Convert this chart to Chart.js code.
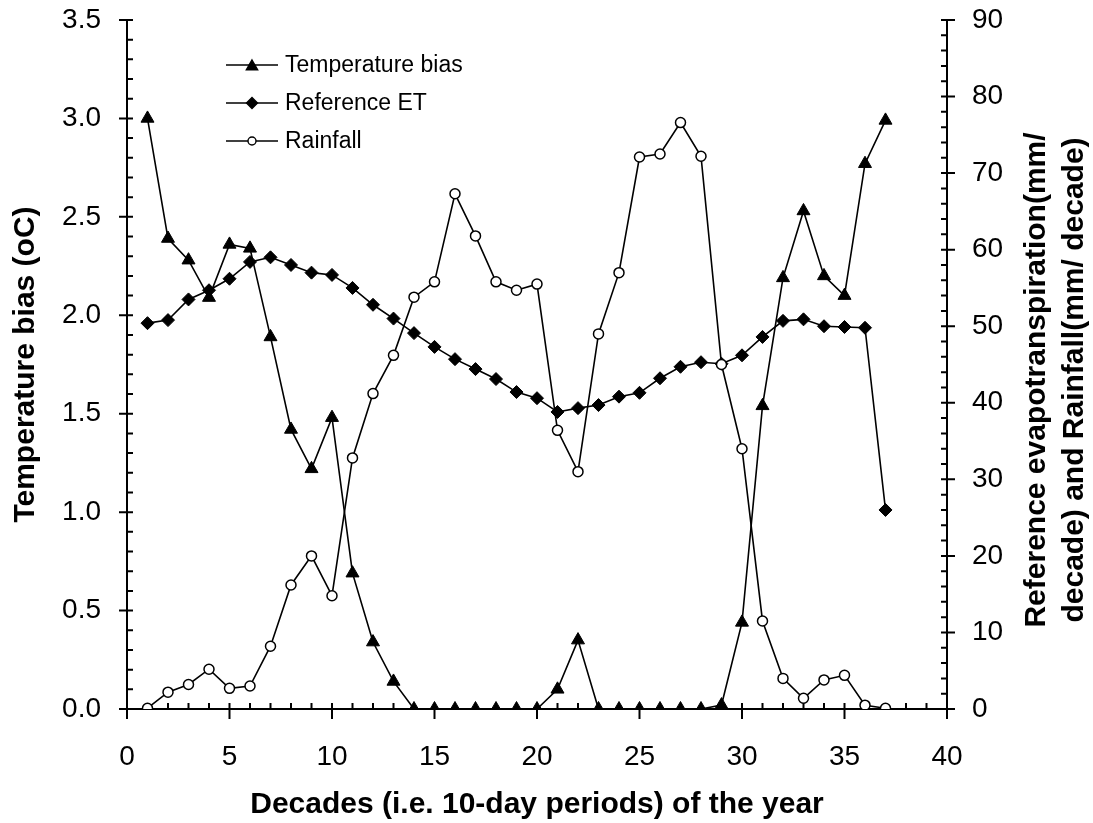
<!DOCTYPE html>
<html><head><meta charset="utf-8">
<script src="https://cdn.jsdelivr.net/npm/chart.js@4.4.1/dist/chart.umd.min.js"></script>
<style>html,body{margin:0;padding:0;background:#fff;overflow:hidden}#wrap{width:1093px;height:823px;position:relative}</style>
</head><body><div id="wrap"><canvas id="c" width="1093" height="823"></canvas></div>
<script>
const decades = [1,2,3,4,5,6,7,8,9,10,11,12,13,14,15,16,17,18,19,20,21,22,23,24,25,26,27,28,29,30,31,32,33,34,35,36,37];
const temperatureBias = [3.00,2.39,2.28,2.09,2.36,2.34,1.89,1.42,1.22,1.48,0.69,0.34,0.14,0,0,0,0,0,0,0,0.10,0.35,0,0,0,0,0,0,0.02,0.44,1.54,2.19,2.53,2.20,2.10,2.77,2.99];
const referenceET = [50.4,50.8,53.5,54.7,56.2,58.4,59.0,58.0,57.0,56.7,55.0,52.8,51.0,49.1,47.3,45.7,44.4,43.1,41.4,40.6,38.8,39.3,39.7,40.8,41.3,43.2,44.7,45.3,45.1,46.2,48.6,50.7,50.9,50.0,49.9,49.8,26.0];
const rainfall = [0.1,2.2,3.2,5.2,2.7,3.0,8.2,16.2,20.0,14.8,32.8,41.2,46.2,53.8,55.8,67.3,61.8,55.8,54.7,55.5,36.4,31.0,49.0,57.0,72.1,72.5,76.6,72.2,45.0,34.0,11.5,4.0,1.4,3.8,4.4,0.5,0.1];
const seriesNames = ['Temperature bias','Reference ET','Rainfall'];
const xTitle = 'Decades (i.e. 10-day periods) of the year';
const yTitle = 'Temperature bias (oC)';
const y2Title = ['Reference evapotranspiration(mm/','decade) and Rainfall(mm/ decade)'];

const FONT = "'Liberation Sans', Arial, sans-serif";
const pts = arr => arr.map((v,i)=>({x:decades[i], y:v}));

const axisTicks = {
  id:'axisTicks',
  beforeDatasetsDraw(chart){
    const {ctx, chartArea:ca, scales:{x, y, y2}} = chart;
    ctx.save();
    ctx.strokeStyle='#000'; ctx.lineWidth=2; ctx.lineCap='butt';
    ctx.beginPath();
    ctx.moveTo(ca.left, ca.top); ctx.lineTo(ca.left, ca.bottom+1);
    ctx.moveTo(ca.right, ca.top); ctx.lineTo(ca.right, ca.bottom+1);
    ctx.moveTo(ca.left-1, ca.bottom); ctx.lineTo(ca.right+1, ca.bottom);
    for(let i=0;i<=40;i++){
      const px=x.getPixelForValue(i);
      ctx.moveTo(px, ca.bottom-6); ctx.lineTo(px, ca.bottom+(i%5===0?10:0));
    }
    for(let i=0;i<=35;i++){
      const py=y.getPixelForValue(i/10);
      ctx.moveTo(ca.left-(i%5===0?8:0), py); ctx.lineTo(ca.left+6, py);
    }
    for(let i=0;i<=45;i++){
      const py=y2.getPixelForValue(i*2);
      ctx.moveTo(ca.right-6, py); ctx.lineTo(ca.right+(i%5===0?8:0), py);
    }
    ctx.stroke();
    ctx.restore();
  },
  afterDraw(chart){
    const {ctx, chartArea:ca} = chart;
    ctx.save();
    ctx.fillStyle='#000';
    ctx.font = "bold 30px "+FONT;
    ctx.textAlign='center'; ctx.textBaseline='alphabetic';
    ctx.translate(1045, 380);
    ctx.rotate(-Math.PI/2);
    ctx.fillText(y2Title[0], 0, 0);
    ctx.fillText(y2Title[1], 0, 38);
    ctx.restore();
    ctx.save();
    const rows=[65,103,141];
    chart.data.datasets.forEach((ds,i)=>{
      const yy=rows[i];
      ctx.strokeStyle='#000'; ctx.lineWidth=1.6;
      ctx.beginPath(); ctx.moveTo(226,yy); ctx.lineTo(278,yy); ctx.stroke();
      ctx.fillStyle=ds.pointBackgroundColor; ctx.strokeStyle='#000'; ctx.lineWidth=1.4;
      Chart.helpers.drawPoint(ctx,{pointStyle:ds.pointStyle, radius:ds.legendRadius, borderWidth:1.4, rotation:0}, 252, yy + (ds.pointStyle==='triangle'?1.5:0));
      ctx.fillStyle='#000';
      ctx.font="23px "+FONT; ctx.textAlign='left'; ctx.textBaseline='middle';
      ctx.fillText(ds.label, 285, yy+1);
    });
    ctx.restore();
  }
};

function fitV(w){ return s => { s.width=w; s.paddingTop=0; s.paddingBottom=0; }; }

new Chart(document.getElementById('c'), {
  type:'line',
  data:{datasets:[
    {label:seriesNames[0], data:pts(temperatureBias), yAxisID:'y', borderColor:'#000', borderWidth:1.6,
     pointStyle:'triangle', pointRadius:7.5, pointBackgroundColor:'#000', pointBorderColor:'#000', pointBorderWidth:1, legendRadius:6.5, order:3, tension:0},
    {label:seriesNames[1], data:pts(referenceET), yAxisID:'y2', borderColor:'#000', borderWidth:1.6,
     pointStyle:'rectRot', pointRadius:6.5, pointBackgroundColor:'#000', pointBorderColor:'#000', pointBorderWidth:1, legendRadius:5.5, order:2, tension:0},
    {label:seriesNames[2], data:pts(rainfall), yAxisID:'y2', borderColor:'#000', borderWidth:1.6,
     pointStyle:'circle', pointRadius:5, pointBackgroundColor:'#fff', pointBorderColor:'#000', pointBorderWidth:1.5, legendRadius:4, order:1, tension:0}
  ]},
  options:{
    responsive:false, animation:false, devicePixelRatio:1,
    layout:{padding:{top:20,left:0,right:0,bottom:0}},
    plugins:{legend:{display:false}, tooltip:{enabled:false}},
    elements:{point:{hoverRadius:5}},
    scales:{
      x:{type:'linear', min:0, max:40, afterFit(s){s.height=114; s.paddingLeft=0; s.paddingRight=0;},
         grid:{display:false, drawTicks:false}, border:{display:false},
         ticks:{stepSize:5, padding:31, color:'#000', font:{family:FONT,size:28}, maxRotation:0},
         title:{display:true, text:xTitle, color:'#000', font:{family:FONT,size:30,weight:'bold'}, padding:{top:0,bottom:0}}},
      y:{type:'linear', position:'left', min:0, max:3.5, afterFit:fitV(127),
         grid:{display:false, drawTicks:false}, border:{display:false},
         ticks:{stepSize:0.5, padding:26, color:'#000', font:{family:FONT,size:28}, callback:v=>v.toFixed(1)},
         title:{display:true, text:yTitle, color:'#000', font:{family:FONT,size:30,weight:'bold'}, padding:{top:8,bottom:0}}},
      y2:{type:'linear', position:'right', min:0, max:90, afterFit:fitV(146),
         grid:{display:false, drawTicks:false}, border:{display:false},
         ticks:{stepSize:10, padding:25, color:'#000', font:{family:FONT,size:28}}}
    }
  },
  plugins:[axisTicks]
});
</script>
</body></html>
